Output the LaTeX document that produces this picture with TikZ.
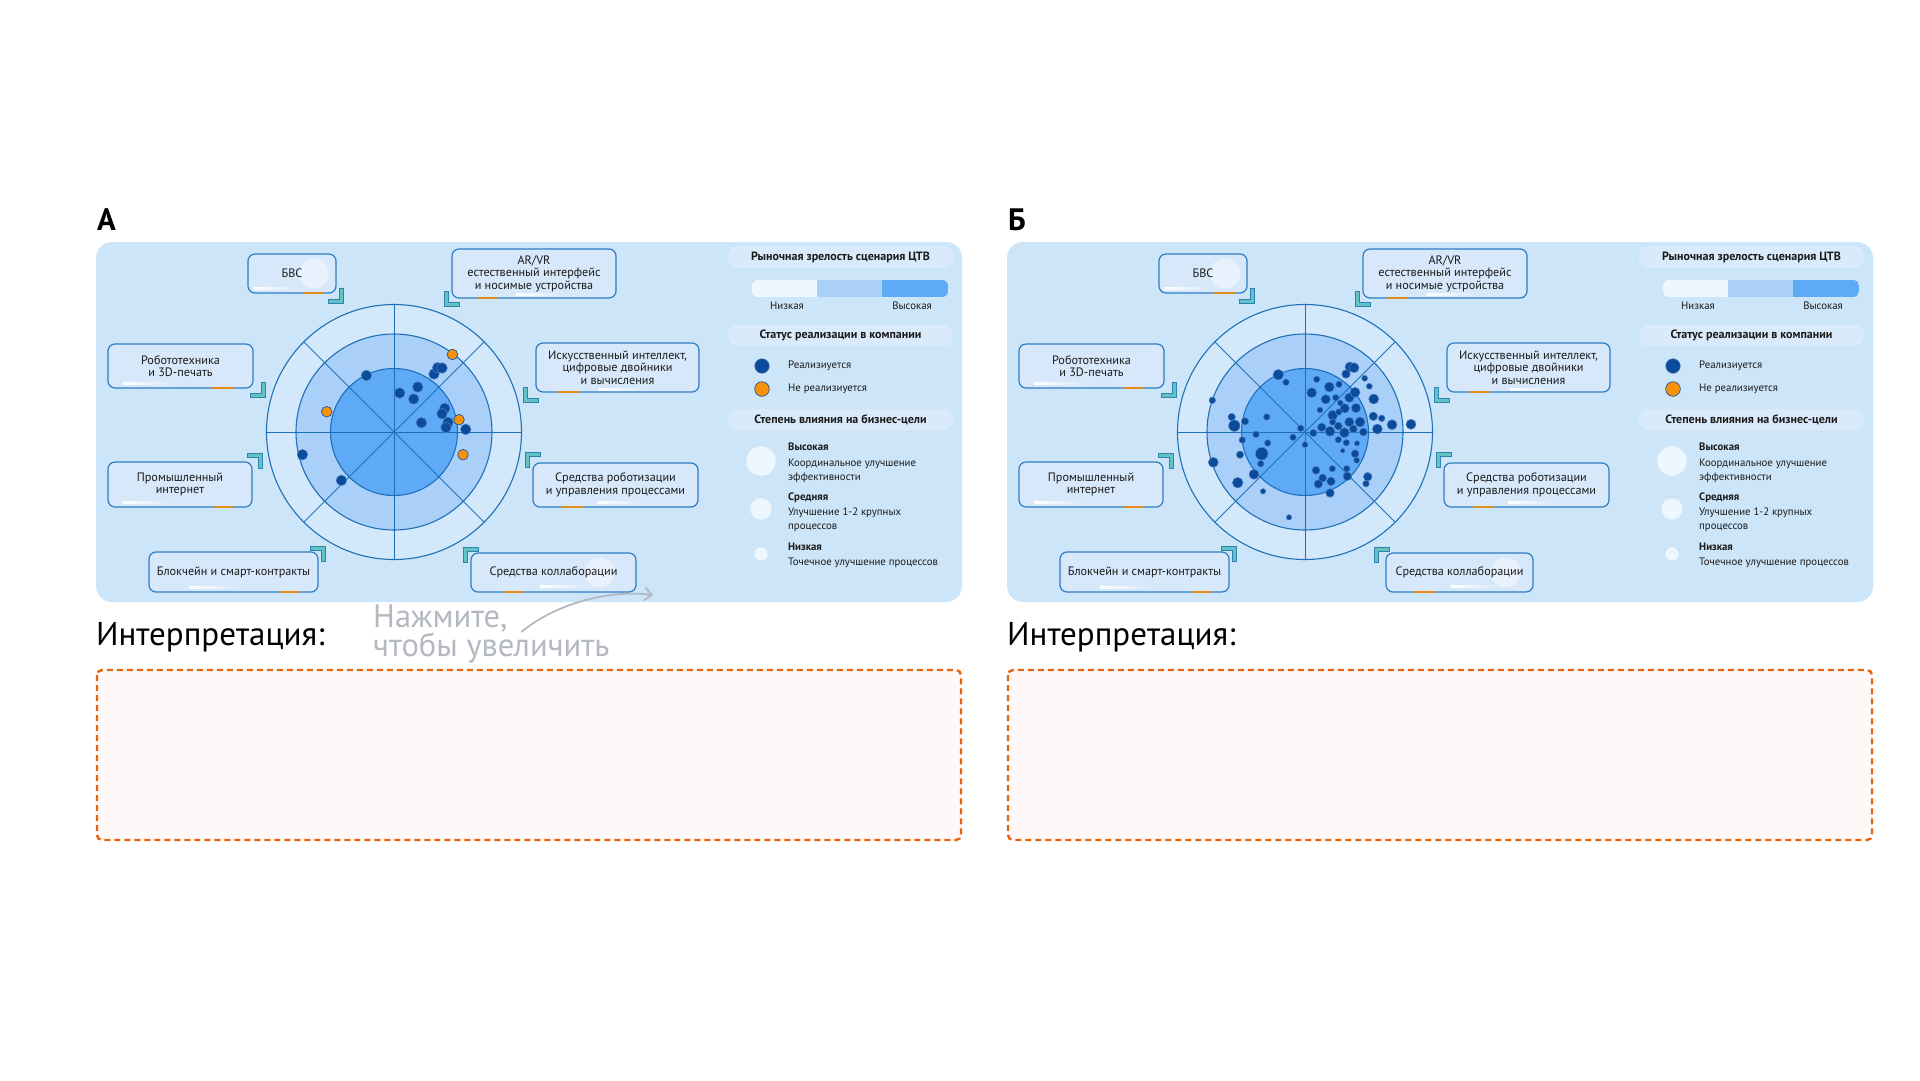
\documentclass[tikz,border=0pt]{standalone}
\usepackage{fontspec}
\setmainfont{PT Sans}
\usepackage{color}
\usetikzlibrary{arrows.meta, calc, positioning}

% colours
\definecolor{panelbg}{HTML}{CCE5F8}
\definecolor{pillbg}{HTML}{D9EAFB}
\definecolor{boxbg}{HTML}{D7E8FB}
\definecolor{boxedge}{HTML}{2E7DC4}
\definecolor{ringlow}{HTML}{D4E8FB}
\definecolor{ringmid}{HTML}{AAD0FA}
\definecolor{ringhigh}{HTML}{5EAAF7}
\definecolor{spokeblue}{HTML}{1E70B8}
\definecolor{navydot}{HTML}{0A4B9C}
\definecolor{orangedot}{HTML}{F5920A}
\definecolor{tealmark}{HTML}{62C2C4}
\definecolor{tealedge}{HTML}{2E84AE}
\definecolor{orangebar}{HTML}{E48B1D}
\definecolor{dashorange}{HTML}{E9620C}
\definecolor{notefill}{HTML}{FFF8F8}
\definecolor{hintgrey}{HTML}{B4B9C1}
\definecolor{legendwhite}{HTML}{EEF6FE}
\definecolor{textdark}{HTML}{1B1B1B}

% teal corner mark: corner x, corner y, x direction, y direction
\newcommand{\cornerMark}[4]{%
  \filldraw[fill=tealmark, draw=tealedge, line width=0.7pt]
    (#1,#2) -- ++({#3*15},0) -- ++(0,{#4*4}) -- ++({-(#3)*11},0)
    -- ++(0,{#4*11}) -- ++({-(#3)*4},0) -- cycle;}

\begin{document}
\begin{tikzpicture}[x=1pt, y=-1pt,
  techbox/.style={draw=boxedge, fill=boxbg, line width=1.2pt, rounded corners=7pt,
    align=center, inner sep=0pt, text=textdark, font=\fontsize{12.2}{12.6}\selectfont},
  glare/.style={path picture={\fill[white, opacity=0.45]
    ([xshift=#1]path picture bounding box.center) circle[radius=15pt];}},
  pill/.style={fill=pillbg, rounded corners=9pt},
  legendhead/.style={font=\bfseries\fontsize{12}{13}\selectfont, text=textdark, inner sep=0pt},
  legendtext/.style={font=\fontsize{10.8}{13.8}\selectfont, text=textdark, inner sep=0pt,
    align=left, anchor=west},
  legendbold/.style={font=\bfseries\fontsize{10.8}{12}\selectfont, text=textdark,
    inner sep=0pt, anchor=west},
  ring/.style={draw=spokeblue, line width=1.1pt},
  spoke/.style={draw=spokeblue, line width=0.9pt},
  dotyes/.style={fill=navydot, draw=white!30!navydot, line width=0.5pt},
  dotno/.style={fill=orangedot, draw=navydot, line width=0.6pt},
  markbar/.style={draw=orangebar, line width=2.6pt},
  notebox/.style={draw=dashorange, fill=notefill, line width=2.4pt,
    dash pattern=on 6pt off 4pt, rounded corners=5pt},
  heading/.style={font=\fontsize{33}{38}\selectfont, inner sep=0pt, anchor=west},
  paneltag/.style={font=\bfseries\fontsize{31}{36}\selectfont, inner sep=0pt, anchor=west},
  hinttext/.style={text=hintgrey, font=\fontsize{32.5}{28}\selectfont, align=left,
    inner sep=0pt, anchor=west}
]
\useasboundingbox (0,0) rectangle (1920,1080);
\fill[white] (0,0) rectangle (1920,1080);

\foreach \ox/\pid/\tagtext/\colL/\colR in {0/A/А/471/636, 911/B/Б/475/622}{
\begin{scope}[shift={(\ox,0)}]
\pgfmathsetmacro{\colW}{\colR-\colL}
\pgfmathsetmacro{\colX}{(\colL+\colR)/2}

% Panel
\node[paneltag] (tag-\pid) at (97,220) {\tagtext};
\fill[panelbg, rounded corners=16pt] (96,242) rectangle (962,602);

% Radar rings
\begin{scope}[shift={(394,432)}]
\coordinate (radar-\pid) at (0,0);
\filldraw[ring, fill=ringlow] (radar-\pid) circle[radius=127.5];
\filldraw[ring, fill=ringmid] (radar-\pid) circle[radius=98];
\filldraw[ring, fill=ringhigh] (radar-\pid) circle[radius=63.5];
\foreach \a in {0,45,90,135}
  \draw[spoke] (\a:127.5) -- (\a+180:127.5);
\end{scope}

% Technology boxes
\node[techbox, minimum width=88, minimum height=39, glare=22pt] (bvs-\pid) at (292,273.5) {БВС};
\node[techbox, minimum width=145, minimum height=44] (robot-\pid) at (180.5,366) {Робототехника\\и 3D-печать};
\node[techbox, minimum width=144, minimum height=45] (iiot-\pid) at (180,484.5) {Промышленный\\интернет};
\node[techbox, minimum width=169, minimum height=40] (chain-\pid) at (233.5,572) {Блокчейн и смарт-контракты};
\node[techbox, minimum width=164, minimum height=49] (arvr-\pid) at (534,273.5) {AR/VR\\естественный интерфейс\\и носимые устройства};
\node[techbox, minimum width=163, minimum height=49] (ai-\pid) at (617.5,367.5) {Искусственный интеллект,\\цифровые двойники\\и вычисления};
\node[techbox, minimum width=165, minimum height=44] (rpa-\pid) at (615.5,485) {Средства роботизации\\и управления процессами};
\node[techbox, minimum width=\colW, minimum height=39, glare=46pt] (collab-\pid) at (\colX,572.5) {Средства коллаборации};

% white highlights and orange marks
\foreach \xa/\xb/\yy in {253/299/288.5, 123/173/383.5, 123/172/502, 189/239/587,
                         516/563/294, 599/643/389, 597/645/502.5, 540/588/586}
  \shade[left color=white, right color=boxbg] (\xa,\yy-1) rectangle (\xb,\yy+1);
\foreach \xa/\xb/\yy in {303/324/293, 212/233/388, 213/233/507, 280/300/592,
                         477/497/298, 558/579/392, 562/583/507, 503/524/592}
  \draw[markbar] (\xa,\yy) -- (\xb,\yy);

% corner marks
\cornerMark{343}{303}{-1}{-1}
\cornerMark{265}{397}{-1}{-1}
\cornerMark{262}{453}{-1}{1}
\cornerMark{325}{546}{-1}{1}
\cornerMark{444}{306}{1}{-1}
\cornerMark{523}{402}{1}{-1}
\cornerMark{525}{452}{1}{1}
\cornerMark{463}{547}{1}{1}

% Legend: maturity
\fill[pill] (728,246) rectangle (953,268);
\node[legendhead] (maturity-\pid) at (840.5,257) {Рыночная зрелость сценария ЦТВ};
\begin{scope}
\clip[rounded corners=6pt] (752,280) rectangle (948,297);
\fill[legendwhite] (752,280) rectangle (817,297);
\fill[ringmid] (817,280) rectangle (882,297);
\fill[ringhigh] (882,280) rectangle (948,297);
\end{scope}
\node[legendtext, anchor=center] (low-\pid) at (787,306) {Низкая};
\node[legendtext, anchor=center] (high-\pid) at (912,306) {Высокая};

% Legend: status
\fill[pill] (728,325) rectangle (953,346);
\node[legendhead] (status-\pid) at (840.5,335.5) {Статус реализации в компании};
\filldraw[dotyes] (762,366) circle[radius=7.3];
\node[legendtext] (done-\pid) at (788,366) {Реализиуется};
\filldraw[dotno] (762,389) circle[radius=7.3];
\node[legendtext] (notdone-\pid) at (788,389) {Не реализиуется};

% Legend: impact
\fill[pill] (728,409) rectangle (953,430);
\node[legendhead] (impact-\pid) at (840.5,419.5) {Степень влияния на бизнес-цели};
\fill[legendwhite] (761,461) circle[radius=14.7];
\fill[legendwhite] (761,509) circle[radius=10.7];
\fill[legendwhite] (761,554) circle[radius=6.7];
\node[legendbold] (big-\pid) at (788,447) {Высокая};
\node[legendtext] (bigtext-\pid) at (788,471) {Координальное улучшение\\эффективности};
\node[legendbold] (mid-\pid) at (788,498) {Средняя};
\node[legendtext] (midtext-\pid) at (788,519.5) {Улучшение 1-2 крупных\\процессов};
\node[legendbold] (small-\pid) at (788,547) {Низкая};
\node[legendtext] (smalltext-\pid) at (788,563) {Точечное улучшение процессов};

% Interpretation field
\node[heading] (interp-\pid) at (96,637) {Интерпретация:};
\draw[notebox] (97,670) rectangle (961,840);
\end{scope}
}

% Panel A: scenarios
\begin{scope}[shift={(394,432)}]
\foreach \dx/\dy in {-27.6/-56.6, 5.7/-39, 23.7/-45, 19.7/-33, 40/-58, 43.7/-64.3,
                     48/-64, 50.7/-23.6, 48/-18.3, 54/-9.6, 52/-4.6, 27.4/-9.3,
                     71.7/-2.6, -91.6/22.7, -52.6/48.4}
  \filldraw[dotyes] (\dx,\dy) circle[radius=5.3];
\foreach \dx/\dy in {58.4/-77.6, -67.3/-20.3, 65/-12.3, 69/22.7}
  \filldraw[dotno] (\dx,\dy) circle[radius=5.3];
\end{scope}

% Panel B: scenarios
\begin{scope}[shift={(1306,432)}]
\foreach \dx/\dy/\rad in {
  -27.7/-57.3/5.3, -20/-49.7/3.3, -93.7/-31.7/3.3, -74.3/-15/3.7, -71.7/-6.3/5.7,
  -61/-10.7/3.7, -39.3/-15/3.3, -50/2.3/3.3, -63.7/8/3.3, -38.3/11/3.3,
  -66/22.7/3.7, -44.3/21.7/6.3, -45.3/31.7/3.3, -92.7/30.3/5, -52/42.3/5,
  -68.3/50.7/5.3, -43/59.3/2.7, -17/85.3/2.7, -5.3/-3.7/3.3, -13/5.3/3.3,
  -1/12.7/3, 7.3/1/3.7, 10.7/-52.7/3.3, 5.7/-39.3/5, 23.3/-45/5,
  33/-47.7/3.3, 44/-65/5, 48/-64.3/5, 40/-58/4.3, 19.7/-32.7/4.7,
  29.7/-34.3/3.3, 43.3/-34.3/4.7, 49/-39.7/5, 58.7/-53.7/3, 63.3/-45.7/3,
  67.7/-33/5, 14/-22/3, 34.3/-29/3, 38.7/-23.7/4.7, 50/-24/4.7,
  26.7/-16.7/5, 32.7/-20/3.3, 26.7/-10/3.3, 43.3/-10/4.7, 54/-10/5,
  15.7/-4.7/4.3, 24/-0.7/5, 38.3/0.7/5, 32.3/-6/4, 47.3/-3/4,
  57.3/0/4, 67.3/-15.7/4.3, 75.7/-13.7/3.3, 71.3/-3/5, 86/-7.3/5,
  105/-7.7/5, 32.3/7.7/3.3, 40.3/10.7/3.3, 51/11.3/2.7, 36.7/18.7/2.3,
  49/21.7/4, 50.7/28.3/3, 10/38.3/4, 26.3/36.7/3.3, 16.7/46/4,
  12.3/52/4.3, 25/49.3/4.3, 40.7/36.7/3.3, 41.3/44.3/4.3, 24/61/4.3,
  61.7/44.7/4.3, 60/51.7/3.3}
  \filldraw[dotyes] (\dx,\dy) circle[radius=\rad];
\end{scope}

% Zoom hint
\node[hinttext] (hint) at (373,634) {Нажмите,\\чтобы увеличить};
\coordinate (zoomtip) at (653,595);
\draw[-{Straight Barb[length=7pt, width=13pt]}, hintgrey, line width=1.8pt]
  ([xshift=30pt, yshift=2pt]hint.center) .. controls +(30,-25) and +(-50,-6) .. (zoomtip);

\end{tikzpicture}
\end{document}
